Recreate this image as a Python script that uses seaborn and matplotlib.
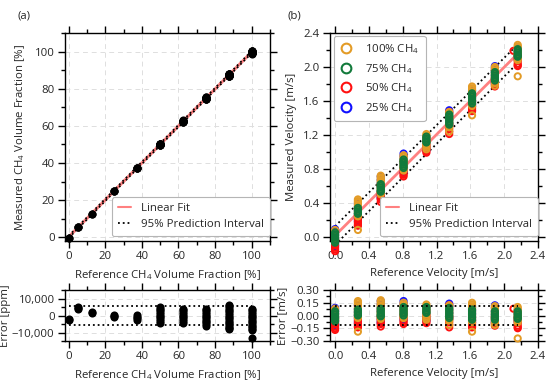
import numpy as np
import pandas as pd
import matplotlib
matplotlib.use("Agg")
import matplotlib.pyplot as plt
from matplotlib.ticker import MultipleLocator, FuncFormatter
from matplotlib.lines import Line2D
import seaborn as sns

# ---------------- data ----------------
ref_frac = [0, 5, 12.5, 25, 37.5, 50, 62.5, 75, 87.5, 100]
err_frac_ppm = [
    [-2000, -2800],
    [4000, 4600, 5200],
    [1200, 2000],
    [200, -400, -1000],
    [400, -600, -1600, -2600],
    [5000, 4000, 3000, 2000, 1000, 0, -1000, -2000, -3000, -4200],
    [4000, 3000, 2000, 1000, 0, -1000, -2000, -3000, -4200],
    [4000, 3000, 2000, 1000, 0, -1000, -2000, -3000, -4000, -5000, -6200],
    [6400, 5400, 4400, 3400, 2400, 1400, 400, -600, -1600, -2600, -3600, -4600, -5600, -6600, -7400, -8200],
    [4000, 3000, 2000, 1000, 0, -1000, -2000, -3000, -4000, -5000, -6000, -7000, -8000, -8600, -13000],
]
pi_half_ppm = 5500

ref_vel = [0.0, 0.27, 0.54, 0.81, 1.08, 1.35, 1.62, 1.89, 2.16]
err_vel_25 = [
    [0.09, 0.07, 0.05, 0.02, -0.02, -0.06, -0.09, -0.11],
    [0.12, 0.08, 0.04, 0.0, -0.04, -0.07, -0.09],
    [0.17, 0.13, 0.09, 0.05, 0.0, -0.04, -0.07, -0.09],
    [0.17, 0.14, 0.10, 0.06, 0.02, -0.02, -0.05],
    [0.10, 0.06, 0.02, -0.02, -0.05, -0.06],
    [0.14, 0.11, 0.07, 0.03, -0.01, -0.04],
    [0.10, 0.06, 0.02, -0.02, -0.06, -0.08],
    [0.12, 0.09, 0.05, 0.01, -0.03, -0.07, -0.09],
    [0.06, 0.02, -0.02, -0.05, -0.07],
]
err_vel_50 = [
    [-0.03, -0.07, -0.10, -0.13, -0.15, -0.17],
    [-0.02, -0.06, -0.09, -0.11, -0.13, -0.14],
    [-0.02, -0.05, -0.08, -0.10, -0.13],
    [0.0, -0.03, -0.06, -0.08, -0.10],
    [0.0, -0.03, -0.05, -0.07, -0.09],
    [0.12, -0.02, -0.05, -0.08, -0.11, -0.14],
    [-0.02, -0.06, -0.09, -0.11, -0.13, -0.14],
    [-0.02, -0.05, -0.08, -0.10, -0.12],
    [-0.02, -0.06, -0.09, -0.12, -0.14, -0.15],
]
extra_ref_50 = [2.11]
extra_err_50 = [0.08]
err_vel_100 = [
    [0.08, 0.05, 0.02, -0.01, -0.04, -0.06],
    [0.17, 0.15, 0.13, 0.11, 0.09, 0.07, 0.05, 0.03, 0.01, -0.01, -0.03, -0.19],
    [0.18, 0.16, 0.14, 0.12, 0.10, 0.08, 0.06, 0.04, 0.02, 0.0, -0.02, -0.04],
    [0.15, 0.13, 0.11, 0.09, 0.07, 0.05, 0.03, 0.01, -0.01, -0.03],
    [0.13, 0.11, 0.09, 0.07, 0.05, 0.03, 0.01, -0.01, -0.03, -0.05],
    [0.12, 0.10, 0.08, 0.06, 0.04, 0.02, 0.0, -0.02, -0.04, -0.06, -0.11],
    [0.15, 0.13, 0.11, 0.09, 0.07, 0.05, 0.03, 0.01, -0.01, -0.03, -0.05, -0.08, -0.19],
    [0.11, 0.09, 0.07, 0.05, 0.03, 0.01, -0.01, -0.03, -0.05, -0.08, -0.11],
    [0.10, 0.08, 0.06, 0.04, 0.02, 0.0, -0.02, -0.04, -0.06, -0.08, -0.27],
]
err_vel_75 = [
    [0.05, 0.03, 0.01, -0.01, -0.03, -0.05, -0.07],
    [0.07, 0.05, 0.03, 0.01, 0.0],
    [0.08, 0.06, 0.04, 0.02, 0.0, -0.01],
    [0.10, 0.08, 0.06, 0.04, 0.02, 0.0],
    [0.10, 0.08, 0.06, 0.04, 0.03],
    [0.09, 0.07, 0.05, 0.03, 0.01, -0.01, -0.03],
    [0.07, 0.05, 0.03, 0.01, -0.01, -0.03, -0.05],
    [0.05, 0.03, 0.01, -0.01, -0.03, -0.05],
    [0.05, 0.03, 0.01, -0.01, -0.03, -0.04],
]
pi_half_vel = 0.11

series_names = ["100% CH$_4$", "75% CH$_4$", "50% CH$_4$", "25% CH$_4$"]
series_colors = ["#E39B26", "#127A3B", "#FF1010", "#1010FF"]

# ---------------- build tables ----------------
rows = []
for r, errs in zip(ref_frac, err_frac_ppm):
    for e in errs:
        rows.append((r, e, r + e / 1e4))
df_a = pd.DataFrame(rows, columns=["ref", "err", "meas"])

rows = []
for name, errs_all in zip(series_names, [err_vel_100, err_vel_75, err_vel_50, err_vel_25]):
    for r, errs in zip(ref_vel, errs_all):
        for e in errs:
            rows.append((name, r, e, r + e))
for r, e in zip(extra_ref_50, extra_err_50):
    rows.append((series_names[2], r, e, r + e))
df_b = pd.DataFrame(rows, columns=["series", "ref", "err", "meas"])

# ---------------- style ----------------
sns.set_theme(style="ticks")
FONT = "Open Sans"
plt.rcParams["font.family"] = [FONT, "DejaVu Sans"]
plt.rcParams["mathtext.fontset"] = "custom"
plt.rcParams["mathtext.rm"] = FONT
plt.rcParams["mathtext.it"] = FONT + ":italic"
FS = 8.2

fig = plt.figure(figsize=(5.5, 3.86), dpi=100)
W, H = 550.0, 386.0
ax_a = fig.add_axes([65 / W, 145 / H, 205 / W, 208 / H])
ax_ae = fig.add_axes([65 / W, 45 / H, 205 / W, 51 / H])
ax_b = fig.add_axes([330 / W, 145 / H, 208 / W, 208 / H])
ax_be = fig.add_axes([330 / W, 45 / H, 208 / W, 51 / H])

FIT_C = "#FF8080"


def style_axes(ax):
    for s in ax.spines.values():
        s.set_linewidth(1.0)
        s.set_color("black")
    ax.tick_params(which="both", direction="out", top=True, right=True,
                   labeltop=False, labelright=False, labelsize=FS, color="black",
                   width=1.0, pad=2.5)
    ax.tick_params(which="major", length=5)
    ax.tick_params(which="minor", length=3)
    ax.grid(True, which="major", ls=(0, (5, 4)), color="#dedede", lw=0.7)
    ax.set_axisbelow(True)


# ---------- panel (a) main ----------
coef_a = np.polyfit(df_a["ref"], df_a["meas"], 1)
xa = np.array([min(ref_frac), max(ref_frac)])
ya = np.polyval(coef_a, xa)
sns.lineplot(x=xa, y=ya, ax=ax_a, color=FIT_C, lw=2.2, zorder=2)
sns.scatterplot(data=df_a, x="ref", y="meas", ax=ax_a, color="black", s=34,
                linewidth=0, zorder=3, clip_on=False)
sns.lineplot(x=xa, y=ya + pi_half_ppm / 1e4, ax=ax_a, color="black", lw=1.3, ls=":", zorder=4)
sns.lineplot(x=xa, y=ya - pi_half_ppm / 1e4, ax=ax_a, color="black", lw=1.3, ls=":", zorder=4)
ax_a.set_xlim(-2, 110)
ax_a.set_ylim(-2, 110)
ax_a.xaxis.set_major_locator(MultipleLocator(20))
ax_a.xaxis.set_minor_locator(MultipleLocator(10))
ax_a.yaxis.set_major_locator(MultipleLocator(20))
ax_a.yaxis.set_minor_locator(MultipleLocator(10))
ax_a.set_xlabel("Reference CH$_4$ Volume Fraction [%]", fontsize=FS)
ax_a.set_ylabel("Measured CH$_4$ Volume Fraction [%]", fontsize=FS)
ax_a.yaxis.set_label_coords((27 - 65) / 205, 0.5)
style_axes(ax_a)

fit_handles = [Line2D([], [], color=FIT_C, lw=1.5),
               Line2D([], [], color="black", lw=1.3, ls=":")]
fit_labels = ["Linear Fit", "95% Prediction Interval"]
for ax in (ax_a, ax_b):
    leg = ax.legend(fit_handles, fit_labels, loc="lower right", bbox_to_anchor=(1.0, 0.025),
                    fontsize=FS, frameon=True, fancybox=True, framealpha=1,
                    edgecolor="#b5b5b5", handlelength=1.2, borderpad=0.5,
                    labelspacing=0.45, handletextpad=0.9, borderaxespad=0.0)
    leg.get_frame().set_linewidth(0.8)

# ---------- panel (a) error ----------
sns.scatterplot(data=df_a, x="ref", y="err", ax=ax_ae, color="black", s=34,
                linewidth=0, zorder=3, clip_on=False)
for sgn in (1, -1):
    sns.lineplot(x=xa, y=[sgn * pi_half_ppm] * 2, ax=ax_ae, color="black", lw=1.3, ls=":", zorder=4)
ax_ae.set_xlim(-2, 110)
ax_ae.set_ylim(-15000, 15000)
ax_ae.xaxis.set_major_locator(MultipleLocator(20))
ax_ae.xaxis.set_minor_locator(MultipleLocator(10))
ax_ae.yaxis.set_major_locator(MultipleLocator(10000))
ax_ae.yaxis.set_minor_locator(MultipleLocator(5000))
ax_ae.yaxis.set_major_formatter(FuncFormatter(lambda v, p: f"{v:,.0f}".replace("-", "\u2212")))
ax_ae.set_xlabel("Reference CH$_4$ Volume Fraction [%]", fontsize=FS)
ax_ae.set_ylabel("Error [ppm]", fontsize=FS)
ax_ae.yaxis.set_label_coords((11 - 65) / 205, 0.5)
style_axes(ax_ae)

# ---------- panel (b) main ----------
coef_b = np.polyfit(df_b["ref"], df_b["meas"], 1)
xb = np.array([min(ref_vel), max(ref_vel)])
yb = np.polyval(coef_b, xb)
sns.lineplot(x=xb, y=yb, ax=ax_b, color=FIT_C, lw=2.0, zorder=2)
sns.lineplot(x=xb, y=yb + pi_half_vel, ax=ax_b, color="black", lw=1.3, ls=":", zorder=2)
sns.lineplot(x=xb, y=yb - pi_half_vel, ax=ax_b, color="black", lw=1.3, ls=":", zorder=2)

MS = 20
MLW = 1.4
draw_order = [3, 2, 0, 1]  # 25%, 50%, 100%, 75%
for i in draw_order:
    sub = df_b[df_b["series"] == series_names[i]]
    sns.scatterplot(data=sub, x="ref", y="meas", ax=ax_b, color=series_colors[i],
                    facecolor="none", edgecolor=series_colors[i], s=MS, linewidth=MLW,
                    zorder=3, clip_on=False, legend=False)
ax_b.set_xlim(-0.06, 2.4)
ax_b.set_ylim(-0.05, 2.4)
ax_b.xaxis.set_major_locator(MultipleLocator(0.4))
ax_b.xaxis.set_minor_locator(MultipleLocator(0.2))
ax_b.yaxis.set_major_locator(MultipleLocator(0.4))
ax_b.yaxis.set_minor_locator(MultipleLocator(0.2))
ax_b.xaxis.set_major_formatter(FuncFormatter(lambda v, p: f"{v:.1f}"))
ax_b.yaxis.set_major_formatter(FuncFormatter(lambda v, p: f"{v:.1f}"))
ax_b.set_xlabel("Reference Velocity [m/s]", fontsize=FS)
ax_b.set_ylabel("Measured Velocity [m/s]", fontsize=FS)
ax_b.yaxis.set_label_coords((297 - 330) / 208, 0.5)
style_axes(ax_b)
fit_leg = ax_b.get_legend()

ser_handles = [Line2D([], [], ls="none", marker="o", ms=7, mfc="none", mec=c, mew=1.5)
               for c in series_colors]
leg2 = ax_b.legend(ser_handles, series_names, loc="upper left", bbox_to_anchor=(0.02, 0.985),
                   fontsize=FS, frameon=True, fancybox=True, framealpha=1,
                   edgecolor="#b5b5b5", handlelength=1.0, borderpad=0.55,
                   labelspacing=0.5, handletextpad=1.2, borderaxespad=0.0)
leg2.get_frame().set_linewidth(0.8)
ax_b.add_artist(fit_leg)

# ---------- panel (b) error ----------
for i in draw_order:
    sub = df_b[df_b["series"] == series_names[i]]
    sns.scatterplot(data=sub, x="ref", y="err", ax=ax_be, color=series_colors[i],
                    facecolor="none", edgecolor=series_colors[i], s=MS, linewidth=MLW,
                    zorder=3, clip_on=False, legend=False)
for sgn in (1, -1):
    sns.lineplot(x=xb, y=[sgn * pi_half_vel] * 2, ax=ax_be, color="black", lw=1.3, ls=":", zorder=4)
ax_be.set_xlim(-0.06, 2.4)
ax_be.set_ylim(-0.3, 0.3)
ax_be.xaxis.set_major_locator(MultipleLocator(0.4))
ax_be.xaxis.set_minor_locator(MultipleLocator(0.2))
ax_be.yaxis.set_major_locator(MultipleLocator(0.15))
ax_be.yaxis.set_minor_locator(MultipleLocator(0.075))
ax_be.xaxis.set_major_formatter(FuncFormatter(lambda v, p: f"{v:.1f}"))
ax_be.yaxis.set_major_formatter(FuncFormatter(lambda v, p: f"{v:.2f}".replace("-", "\u2212")))
ax_be.set_xlabel("Reference Velocity [m/s]", fontsize=FS)
ax_be.set_ylabel("Error [m/s]", fontsize=FS)
ax_be.yaxis.set_label_coords((288 - 330) / 208, 0.5)
style_axes(ax_be)

fig.text(18 / W, 1 - 16 / H, "(a)", fontsize=FS, va="center", ha="left")
fig.text(288 / W, 1 - 16 / H, "(b)", fontsize=FS, va="center", ha="left")

fig.savefig("out.png", dpi=100)
